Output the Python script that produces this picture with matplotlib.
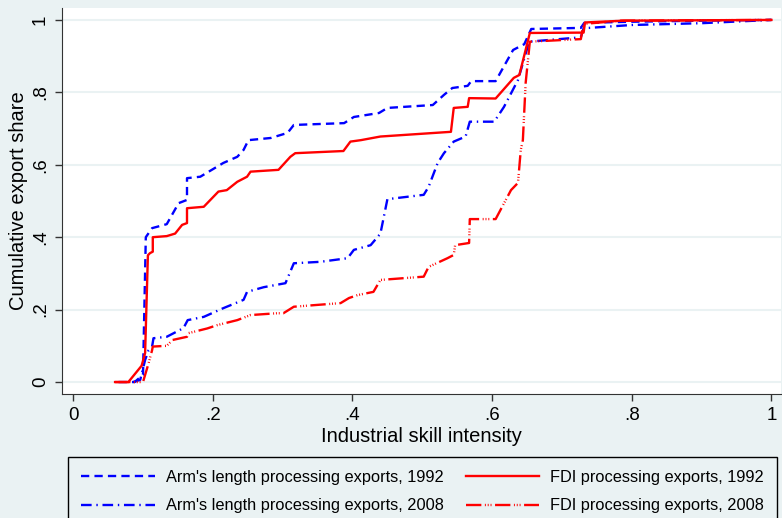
import matplotlib.pyplot as plt

plt.rcParams['font.family'] = ['Liberation Sans', 'DejaVu Sans']

BG = '#eaf2f3'

# Arm's length processing exports, 1992
arm92_x = [0.065, 0.088, 0.100, 0.104, 0.113, 0.134, 0.151, 0.163, 0.163, 0.182, 0.215,
           0.235, 0.244, 0.251, 0.283, 0.307, 0.316, 0.388, 0.402, 0.438, 0.450, 0.515,
           0.531, 0.543, 0.565, 0.570, 0.605, 0.630, 0.646, 0.656, 0.727, 0.732, 0.800,
           0.900, 1.000]
arm92_y = [0.0, 0.0, 0.02, 0.40, 0.425, 0.436, 0.494, 0.503, 0.563, 0.567, 0.605,
           0.622, 0.641, 0.668, 0.674, 0.688, 0.710, 0.715, 0.732, 0.743, 0.757, 0.765,
           0.793, 0.812, 0.818, 0.831, 0.831, 0.917, 0.933, 0.975, 0.978, 0.992, 0.995,
           0.998, 1.0]

# FDI processing exports, 1992
fdi92_x = [0.060, 0.079, 0.098, 0.103, 0.107, 0.110, 0.114, 0.114, 0.134, 0.146, 0.156,
           0.163, 0.163, 0.187, 0.208, 0.220, 0.235, 0.249, 0.254, 0.294, 0.311, 0.318,
           0.387, 0.397, 0.412, 0.440, 0.541, 0.545, 0.565, 0.567, 0.605, 0.631, 0.639,
           0.654, 0.731, 0.733, 0.789, 1.000]
fdi92_y = [0.0, 0.0, 0.045, 0.08, 0.35, 0.356, 0.36, 0.40, 0.403, 0.41, 0.434,
           0.439, 0.48, 0.484, 0.526, 0.530, 0.553, 0.567, 0.581, 0.586, 0.622, 0.632,
           0.638, 0.664, 0.668, 0.678, 0.691, 0.757, 0.760, 0.784, 0.783, 0.840, 0.848,
           0.964, 0.965, 0.993, 0.998, 1.0]

# Arm's length processing exports, 2008
arm08_x = [0.086, 0.096, 0.103, 0.108, 0.113, 0.115, 0.134, 0.158, 0.164, 0.187, 0.215,
           0.244, 0.249, 0.273, 0.304, 0.316, 0.354, 0.393, 0.402, 0.426, 0.440, 0.450,
           0.502, 0.509, 0.522, 0.531, 0.545, 0.562, 0.568, 0.603, 0.617, 0.637, 0.653,
           0.727, 0.731, 0.800, 0.900, 1.000]
arm08_y = [0.0, 0.006, 0.061, 0.088, 0.098, 0.121, 0.125, 0.149, 0.171, 0.180, 0.204,
           0.227, 0.249, 0.262, 0.273, 0.328, 0.332, 0.342, 0.365, 0.378, 0.410, 0.505,
           0.517, 0.539, 0.605, 0.632, 0.664, 0.678, 0.719, 0.719, 0.760, 0.834, 0.940,
           0.952, 0.977, 0.986, 0.991, 1.0]

# FDI processing exports, 2008
fdi08_x = [0.060, 0.100, 0.108, 0.113, 0.114, 0.134, 0.142, 0.163, 0.165, 0.192, 0.206,
           0.235, 0.254, 0.292, 0.301, 0.316, 0.383, 0.395, 0.407, 0.430, 0.440, 0.502,
           0.509, 0.536, 0.545, 0.547, 0.567, 0.568, 0.605, 0.627, 0.637, 0.641, 0.644,
           0.648, 0.654, 0.727, 0.731, 0.785, 1.000]
fdi08_y = [0.0, 0.0, 0.052, 0.088, 0.098, 0.100, 0.116, 0.125, 0.135, 0.148, 0.157,
           0.171, 0.185, 0.190, 0.190, 0.208, 0.218, 0.232, 0.240, 0.249, 0.282, 0.291,
           0.318, 0.342, 0.351, 0.378, 0.384, 0.450, 0.450, 0.530, 0.550, 0.641, 0.668,
           0.826, 0.940, 0.947, 0.989, 0.998, 1.0]

x_ticks = [0, 0.2, 0.4, 0.6, 0.8, 1.0]
x_ticklabels = ['0', '.2', '.4', '.6', '.8', '1']
y_ticks = [0, 0.2, 0.4, 0.6, 0.8, 1.0]
y_ticklabels = ['0', '.2', '.4', '.6', '.8', '1']

fig = plt.figure(figsize=(7.82, 5.18), dpi=100, facecolor=BG)
ax = fig.add_axes([0.0793, 0.2394, 0.9197, 0.7452])
ax.set_facecolor('white')

lw = 1.7
l1, = ax.plot(arm92_x, arm92_y, color='blue', lw=lw, dashes=(3.5, 2.2),
              label="Arm's length processing exports, 1992")
l3, = ax.plot(arm08_x, arm08_y, color='blue', lw=lw, dashes=(4.5, 2.0, 0.6, 2.0),
              label="Arm's length processing exports, 2008")
l2, = ax.plot(fdi92_x, fdi92_y, color='red', lw=lw,
              label="FDI processing exports, 1992")
l4, = ax.plot(fdi08_x, fdi08_y, color='red', lw=lw,
              dashes=(6.5, 1.5, 0.4, 0.8, 0.4, 0.8, 0.4, 1.5),
              label="FDI processing exports, 2008")

ax.set_xlim(-0.016, 1.014)
ax.set_ylim(-0.033, 1.033)
ax.set_xticks(x_ticks)
ax.set_xticklabels(x_ticklabels)
ax.set_yticks(y_ticks)
ax.set_yticklabels(y_ticklabels, rotation=90, va='center')
ax.tick_params(direction='out', length=5, width=1, labelsize=13.5, pad=4.5,
               color='#333333')
ax.grid(axis='y', color=BG, lw=1.5)
ax.set_axisbelow(True)
for s in ['top', 'right']:
    ax.spines[s].set_visible(False)
for s in ['left', 'bottom']:
    ax.spines[s].set_color('#333333')
ax.set_xlabel('Industrial skill intensity', fontsize=14.5, labelpad=2)
ax.set_ylabel('Cumulative export share', fontsize=14.5, labelpad=3)

leg = fig.legend(handles=[l1, l3, l2, l4], ncol=2, loc='upper left',
                 bbox_to_anchor=(0.087, -0.004, 0.907, 0.1216), mode='expand',
                 fontsize=11.8, frameon=True, fancybox=False, edgecolor='black',
                 facecolor=BG, framealpha=1, handlelength=4.5, handletextpad=0.67,
                 borderaxespad=0, borderpad=0.8, columnspacing=1.5,
                 labelspacing=0.8)
leg.get_frame().set_linewidth(1.0)

fig.savefig('out.png', dpi=100, facecolor=BG)
